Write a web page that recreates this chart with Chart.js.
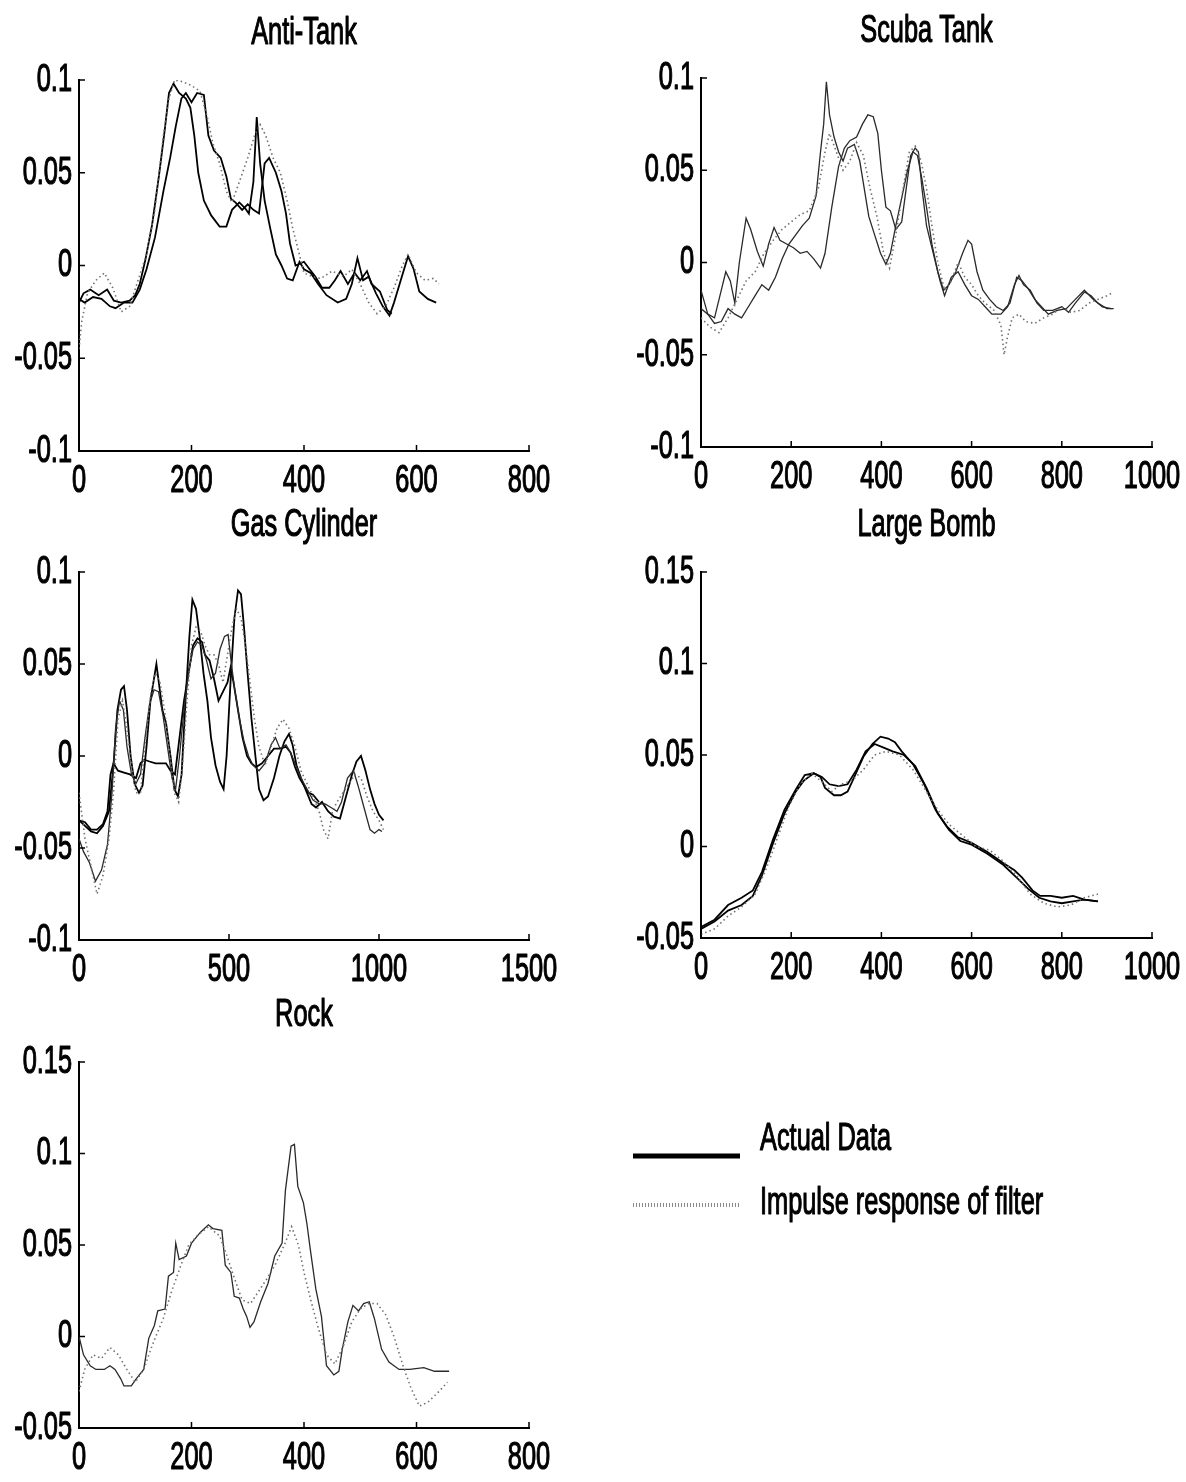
<!DOCTYPE html>
<html lang="en">
<head>
<meta charset="UTF-8">
<title>Actual data vs impulse response of filter</title>
<script src="https://cdn.jsdelivr.net/npm/chart.js"></script>
<style>
  html, body { margin: 0; padding: 0; background: #fff; overflow: hidden; }
  #page { position: relative; width: 1186px; height: 1482px; }
  #page canvas { position: absolute; }
</style>
</head>
<body>
<div id="page"></div>
<script>
// ---------- Anti-Tank ----------
const antiTankXTicks = [0, 200, 400, 600, 800];
const antiTankYTicks = [-0.1, -0.05, 0, 0.05, 0.1];
const antiTankActual1X = [0,8,20,35,50,62,75,90,100,108,118,130,142,152,160,168,178,190,198,205,212,222,235,250,262,272,285,295,302,310,316,322,330,340,350,360,370,380,392,400,412,425,440,460,475,485,495,505,515,528,540,552,560,572,585,595,605,620,635];
const antiTankActual1Y = [-0.020,-0.015,-0.013,-0.016,-0.013,-0.019,-0.020,-0.019,-0.016,-0.010,0.003,0.022,0.048,0.072,0.093,0.098,0.093,0.090,0.085,0.070,0.050,0.035,0.027,0.021,0.021,0.030,0.034,0.031,0.028,0.045,0.080,0.055,0.035,0.020,0.006,0.000,-0.007,-0.008,0.002,-0.002,-0.004,-0.010,-0.016,-0.020,-0.018,-0.010,0.004,-0.008,-0.006,-0.015,-0.022,-0.027,-0.020,-0.008,0.005,-0.002,-0.014,-0.018,-0.020];
const antiTankActual2X = [0,10,25,40,55,65,80,95,108,120,135,150,162,172,182,190,200,210,222,230,240,252,262,270,278,290,300,310,320,330,338,350,360,368,375,385,400,410,420,432,445,455,465,478,490,500,512,520,535,548,556];
const antiTankActual2Y = [-0.018,-0.020,-0.017,-0.018,-0.022,-0.023,-0.020,-0.020,-0.013,-0.002,0.015,0.040,0.058,0.075,0.090,0.093,0.088,0.093,0.092,0.070,0.062,0.058,0.048,0.036,0.034,0.030,0.033,0.030,0.028,0.055,0.058,0.050,0.040,0.028,0.012,0.000,0.002,-0.002,-0.006,-0.012,-0.012,-0.008,-0.003,-0.010,-0.004,-0.008,-0.003,-0.010,-0.014,-0.024,-0.026];
const antiTankFilterX = [0,5,15,30,45,60,75,90,105,120,135,150,160,170,185,200,215,228,238,250,262,272,285,300,312,322,332,345,358,370,380,390,400,415,430,450,470,485,500,515,530,545,560,575,585,600,615,630,640];
const antiTankFilterY = [-0.045,-0.030,-0.015,-0.008,-0.004,-0.012,-0.025,-0.022,-0.008,0.006,0.030,0.070,0.090,0.100,0.099,0.097,0.094,0.080,0.066,0.055,0.040,0.034,0.045,0.058,0.070,0.076,0.070,0.058,0.050,0.035,0.020,0.008,-0.004,-0.006,-0.007,-0.003,-0.006,-0.002,-0.010,-0.020,-0.026,-0.022,-0.012,0.000,0.006,-0.004,-0.008,-0.007,-0.010];

// ---------- Scuba Tank ----------
const scubaXTicks = [0, 200, 400, 600, 800, 1000];
const scubaYTicks = [-0.1, -0.05, 0, 0.05, 0.1];
const scubaActual1X = [0,15,30,45,55,65,75,85,100,110,125,138,150,162,175,190,205,220,235,250,265,275,290,305,318,330,345,358,370,382,392,400,410,420,432,445,455,465,475,482,490,500,515,530,540,555,570,585,600,615,630,645,665,680,695,705,715,730,745,760,780,800,815,830,850,865,880,900,915];
const scubaActual1Y = [-0.015,-0.028,-0.030,-0.015,-0.005,-0.010,-0.022,0.000,0.024,0.018,0.006,-0.002,0.010,0.019,0.012,0.010,0.008,0.005,0.006,0.002,-0.003,0.005,0.030,0.052,0.062,0.066,0.068,0.075,0.080,0.079,0.070,0.050,0.030,0.028,0.018,0.022,0.040,0.058,0.062,0.060,0.040,0.020,0.005,-0.010,-0.018,-0.008,-0.005,-0.012,-0.018,-0.020,-0.024,-0.028,-0.028,-0.024,-0.012,-0.007,-0.012,-0.015,-0.022,-0.026,-0.026,-0.024,-0.027,-0.022,-0.016,-0.018,-0.022,-0.025,-0.025];
const scubaActual2X = [0,15,30,45,60,75,90,105,120,135,150,165,180,195,210,225,240,255,265,272,278,285,295,305,315,325,340,352,362,372,385,398,410,420,432,445,458,470,480,490,500,512,525,538,550,565,580,592,600,612,625,640,655,670,685,700,712,725,740,755,770,790,810,830,850,870,890,910];
const scubaActual2Y = [-0.025,-0.028,-0.033,-0.032,-0.025,-0.028,-0.030,-0.024,-0.018,-0.012,-0.015,-0.008,0.002,0.010,0.015,0.020,0.024,0.036,0.060,0.075,0.098,0.080,0.068,0.060,0.055,0.062,0.064,0.055,0.040,0.025,0.015,0.005,-0.001,0.005,0.020,0.035,0.050,0.060,0.058,0.045,0.030,0.010,-0.005,-0.015,-0.012,-0.005,0.005,0.012,0.010,-0.005,-0.015,-0.020,-0.024,-0.026,-0.022,-0.008,-0.010,-0.014,-0.020,-0.024,-0.028,-0.026,-0.025,-0.020,-0.015,-0.020,-0.024,-0.025];
const scubaFilterX = [0,20,40,60,80,100,120,140,160,180,200,220,240,260,275,285,300,315,330,345,360,375,390,405,418,432,448,462,475,488,500,512,525,540,555,570,585,600,615,630,650,665,672,680,690,705,720,740,760,780,800,820,840,860,880,900,915];
const scubaFilterY = [-0.030,-0.035,-0.038,-0.030,-0.020,-0.010,-0.005,0.005,0.012,0.018,0.022,0.026,0.028,0.040,0.060,0.070,0.060,0.050,0.055,0.065,0.058,0.040,0.025,0.005,-0.003,0.015,0.040,0.060,0.063,0.055,0.040,0.020,0.000,-0.015,-0.010,0.000,-0.008,-0.012,-0.018,-0.022,-0.026,-0.034,-0.050,-0.040,-0.030,-0.028,-0.032,-0.033,-0.030,-0.028,-0.024,-0.027,-0.026,-0.022,-0.020,-0.018,-0.016];

// ---------- Gas Cylinder ----------
const gasXTicks = [0, 500, 1000, 1500];
const gasYTicks = [-0.1, -0.05, 0, 0.05, 0.1];
const gasActual1X = [0,20,40,60,80,100,115,128,140,150,160,172,185,200,212,225,238,250,258,266,278,290,305,318,330,342,355,368,378,390,402,415,428,440,455,470,482,492,505,518,530,540,550,562,575,588,600,615,630,650,668,685,700,712,725,740,760,775,790,810,830,850,870,890,910,925,940,955,970,985,1000,1015];
const gasActual1Y = [-0.035,-0.038,-0.041,-0.042,-0.038,-0.030,-0.005,0.025,0.036,0.038,0.025,0.000,-0.015,-0.020,-0.016,0.005,0.030,0.042,0.050,0.040,0.025,0.018,0.000,-0.018,-0.022,-0.010,0.030,0.065,0.085,0.080,0.065,0.045,0.030,0.010,-0.005,-0.014,-0.018,0.000,0.040,0.075,0.090,0.088,0.070,0.045,0.020,0.000,-0.018,-0.024,-0.022,-0.012,0.000,0.008,0.012,0.006,-0.005,-0.012,-0.020,-0.026,-0.028,-0.025,-0.030,-0.033,-0.034,-0.022,-0.010,-0.003,0.000,-0.008,-0.018,-0.026,-0.032,-0.035];
const gasActual2X = [0,15,35,55,75,95,110,122,135,148,160,175,190,205,220,235,250,265,280,295,310,322,335,350,365,380,395,410,425,440,455,470,485,497,508,520,535,550,565,580,600,620,640,655,670,690,705,720,740,760,780,800,820,840,860,875,895,915,930,950,970,985,1000,1010];
const gasActual2Y = [-0.045,-0.052,-0.058,-0.068,-0.062,-0.048,-0.020,0.015,0.030,0.025,0.005,-0.010,-0.015,-0.010,0.010,0.028,0.036,0.035,0.022,0.005,-0.012,-0.018,0.000,0.025,0.045,0.058,0.062,0.060,0.052,0.042,0.045,0.058,0.065,0.066,0.050,0.035,0.020,0.008,0.000,-0.005,-0.008,-0.004,0.006,0.010,0.004,0.006,0.002,-0.004,-0.012,-0.018,-0.024,-0.026,-0.026,-0.028,-0.030,-0.025,-0.012,-0.008,-0.016,-0.028,-0.040,-0.042,-0.040,-0.041];
const gasActual3X = [0,20,40,60,80,95,105,115,130,150,170,190,205,218,235,255,275,290,305,320,335,350,365,380,395,410,420,435,450,465,480,495,505,515,530,545,560,575,590,610,630,650,670,690,705,720,735,750,765,780,800];
const gasActual3Y = [-0.035,-0.036,-0.040,-0.040,-0.037,-0.030,-0.010,-0.004,-0.008,-0.009,-0.010,-0.012,-0.004,-0.002,-0.003,-0.004,-0.004,-0.004,-0.008,-0.010,0.010,0.030,0.045,0.060,0.064,0.062,0.055,0.052,0.042,0.030,0.035,0.040,0.048,0.040,0.025,0.010,0.000,-0.004,-0.006,-0.004,0.000,0.004,0.004,0.005,0.002,-0.006,-0.012,-0.016,-0.020,-0.021,-0.025];
const gasFilterX = [0,20,40,60,80,100,115,130,145,160,175,190,205,220,240,255,270,285,300,318,332,345,360,375,390,405,420,435,450,465,480,495,510,525,540,555,570,585,600,620,640,660,680,700,720,740,760,780,800,815,830,845,860,880,900,920,940,960,980,1000,1015];
const gasFilterY = [-0.020,-0.045,-0.060,-0.075,-0.065,-0.045,-0.020,0.020,0.030,0.015,-0.005,-0.020,-0.020,0.005,0.035,0.045,0.040,0.025,0.005,-0.020,-0.025,-0.005,0.030,0.060,0.070,0.068,0.060,0.055,0.055,0.050,0.040,0.055,0.070,0.080,0.075,0.060,0.040,0.020,0.005,-0.005,0.005,0.015,0.020,0.015,0.005,-0.008,-0.015,-0.022,-0.030,-0.040,-0.045,-0.030,-0.025,-0.020,-0.015,-0.010,-0.012,-0.022,-0.030,-0.035,-0.040];

// ---------- Large Bomb ----------
const bombXTicks = [0, 200, 400, 600, 800, 1000];
const bombYTicks = [-0.05, 0, 0.05, 0.1, 0.15];
const bombActual1X = [0,30,60,90,115,135,160,185,210,230,250,265,275,295,310,325,340,360,380,398,415,430,445,470,495,520,545,570,600,635,670,695,712,735,752,775,800,825,850,880];
const bombActual1Y = [-0.044,-0.040,-0.032,-0.028,-0.024,-0.014,0.004,0.020,0.031,0.039,0.040,0.038,0.032,0.028,0.028,0.030,0.038,0.049,0.056,0.060,0.059,0.057,0.052,0.045,0.034,0.020,0.011,0.005,0.002,-0.003,-0.009,-0.013,-0.017,-0.024,-0.027,-0.027,-0.028,-0.027,-0.029,-0.030];
const bombActual2X = [0,30,60,90,115,135,160,185,210,228,250,268,285,305,325,345,365,385,405,425,450,475,500,525,550,575,600,635,670,700,725,750,775,800,825,850,880];
const bombActual2Y = [-0.045,-0.041,-0.035,-0.032,-0.027,-0.016,0.002,0.018,0.030,0.036,0.040,0.038,0.034,0.033,0.034,0.042,0.052,0.056,0.054,0.052,0.050,0.044,0.032,0.018,0.009,0.003,0.001,-0.004,-0.010,-0.017,-0.023,-0.028,-0.030,-0.031,-0.030,-0.029,-0.030];
const bombFilterX = [0,30,60,90,120,145,170,195,220,245,270,290,310,335,360,385,410,440,470,500,525,550,580,610,640,670,700,730,760,790,820,850,880];
const bombFilterY = [-0.048,-0.045,-0.038,-0.033,-0.026,-0.012,0.005,0.022,0.034,0.040,0.035,0.030,0.034,0.036,0.042,0.050,0.052,0.050,0.042,0.030,0.020,0.012,0.006,0.000,-0.002,-0.008,-0.016,-0.026,-0.031,-0.033,-0.032,-0.028,-0.026];

// ---------- Rock ----------
const rockXTicks = [0, 200, 400, 600, 800];
const rockYTicks = [-0.05, 0, 0.05, 0.1, 0.15];
const rockActualX = [0,8,20,30,45,55,64,74,80,93,102,115,124,134,140,153,159,168,172,178,191,200,216,230,238,254,260,270,276,285,292,298,304,311,323,336,348,361,367,377,383,389,399,405,411,421,431,440,453,462,468,478,487,497,506,516,525,538,551,569,588,613,632,658];
const rockActualY = [0.000,-0.010,-0.016,-0.018,-0.018,-0.016,-0.018,-0.023,-0.027,-0.027,-0.023,-0.018,-0.001,0.006,0.014,0.015,0.033,0.035,0.051,0.042,0.044,0.051,0.057,0.061,0.059,0.058,0.039,0.035,0.022,0.021,0.015,0.011,0.005,0.008,0.019,0.029,0.044,0.051,0.080,0.104,0.105,0.082,0.073,0.062,0.048,0.026,0.011,-0.016,-0.021,-0.019,-0.007,0.008,0.017,0.014,0.018,0.019,0.010,-0.007,-0.014,-0.018,-0.018,-0.017,-0.019,-0.019];
const rockFilterX = [0,10,25,40,55,70,85,100,115,130,150,165,180,195,210,230,250,262,275,290,305,320,335,350,365,378,390,400,412,425,440,455,470,485,500,515,530,545,560,575,590,605,620,640,655];
const rockFilterY = [-0.030,-0.018,-0.010,-0.012,-0.006,-0.010,-0.018,-0.025,-0.018,-0.005,0.010,0.025,0.038,0.050,0.055,0.060,0.055,0.045,0.033,0.020,0.018,0.025,0.032,0.040,0.050,0.060,0.050,0.035,0.020,0.005,-0.010,-0.015,-0.005,0.008,0.015,0.018,0.018,0.012,0.000,-0.015,-0.028,-0.038,-0.036,-0.030,-0.025];

const ACTUAL_LABEL = 'Actual Data';
const FILTER_LABEL = 'Impulse response of filter';

// line styles
const actualStyle = { borderColor: '#000', borderWidth: 1.8 };
const actualThin = { borderColor: '#2a2a2a', borderWidth: 1.3 };
const filterStyle = { borderColor: '#707070', borderWidth: 1.6, borderDash: [1.5, 3] };

// narrow, tall lettering like the old plotting font
const FONT = '39px "Liberation Sans", Arial, sans-serif';
const TEXT_SCALE = 0.65;

function narrowText(ctx, text, x, y, align) {
  ctx.save();
  ctx.translate(x, y);
  ctx.scale(TEXT_SCALE, 1);
  ctx.font = FONT;
  ctx.fillStyle = '#000';
  ctx.strokeStyle = '#000';
  ctx.lineWidth = 1.2;
  ctx.lineJoin = 'round';
  ctx.textAlign = align;
  ctx.textBaseline = 'middle';
  ctx.fillText(text, 0, 0);
  ctx.strokeText(text, 0, 0);
  ctx.restore();
}

// inward tick marks, tick labels and panel title
const matlabAxes = {
  id: 'matlabAxes',
  afterDraw(chart, args, opts) {
    const { ctx, chartArea: a, scales: { x, y } } = chart;
    ctx.save();
    ctx.strokeStyle = '#000';
    ctx.lineWidth = 1.5;
    ctx.beginPath();
    opts.xTicks.forEach(v => {
      const px = x.getPixelForValue(v);
      ctx.moveTo(px, a.bottom);
      ctx.lineTo(px, a.bottom - 6);
    });
    opts.yTicks.forEach(v => {
      const py = y.getPixelForValue(v);
      ctx.moveTo(a.left, py);
      ctx.lineTo(a.left + 6, py);
    });
    ctx.stroke();
    ctx.restore();

    opts.xTicks.forEach(v => narrowText(ctx, String(v), x.getPixelForValue(v), a.bottom + 30, 'center'));
    opts.yTicks.forEach(v => narrowText(ctx, String(v), a.left - 7, y.getPixelForValue(v), 'right'));
    narrowText(ctx, opts.title, (a.left + a.right) / 2, a.top - 47, 'center');
  }
};

// legend to the right of the last panel
const sideLegend = {
  id: 'sideLegend',
  afterDraw(chart, args, opts) {
    const ctx = chart.ctx;
    const top = opts.canvasTop;
    opts.rows.forEach(row => {
      const ds = chart.data.datasets.find(d => d.label === row.label);
      ctx.save();
      ctx.strokeStyle = row.color;
      ctx.lineWidth = row.width;
      ctx.setLineDash(row.dash);
      ctx.beginPath();
      ctx.moveTo(opts.x0, row.y - top);
      ctx.lineTo(opts.x1, row.y - top);
      ctx.stroke();
      ctx.restore();
      narrowText(ctx, ds.label, opts.textX, row.textY - top, 'left');
    });
  }
};

function series(label, xs, ys, style) {
  return {
    label,
    data: xs.map((v, i) => ({ x: v, y: ys[i] })),
    ...style,
    pointRadius: 0,
    tension: 0,
    fill: false
  };
}

const panels = [
  {
    title: 'Anti-Tank', xMax: 800, yMin: -0.1, yMax: 0.1,
    xTicks: antiTankXTicks, yTicks: antiTankYTicks,
    canvas: { left: 0, top: 0, width: 600, height: 504 },
    plot: { left: 79, top: 80, right: 529, bottom: 451 },
    datasets: [
      series(FILTER_LABEL, antiTankFilterX, antiTankFilterY, filterStyle),
      series(ACTUAL_LABEL, antiTankActual2X, antiTankActual2Y, actualStyle),
      series(ACTUAL_LABEL, antiTankActual1X, antiTankActual1Y, actualStyle)
    ]
  },
  {
    title: 'Scuba Tank', xMax: 1000, yMin: -0.1, yMax: 0.1,
    xTicks: scubaXTicks, yTicks: scubaYTicks,
    canvas: { left: 620, top: 0, width: 566, height: 504 },
    plot: { left: 701, top: 78, right: 1152, bottom: 447 },
    datasets: [
      series(FILTER_LABEL, scubaFilterX, scubaFilterY, filterStyle),
      series(ACTUAL_LABEL, scubaActual2X, scubaActual2Y, actualThin),
      series(ACTUAL_LABEL, scubaActual1X, scubaActual1Y, actualThin)
    ]
  },
  {
    title: 'Gas Cylinder', xMax: 1500, yMin: -0.1, yMax: 0.1,
    xTicks: gasXTicks, yTicks: gasYTicks,
    canvas: { left: 0, top: 494, width: 600, height: 496 },
    plot: { left: 79, top: 572, right: 529, bottom: 940 },
    datasets: [
      series(FILTER_LABEL, gasFilterX, gasFilterY, filterStyle),
      series(ACTUAL_LABEL, gasActual2X, gasActual2Y, actualThin),
      series(ACTUAL_LABEL, gasActual3X, gasActual3Y, actualStyle),
      series(ACTUAL_LABEL, gasActual1X, gasActual1Y, actualStyle)
    ]
  },
  {
    title: 'Large Bomb', xMax: 1000, yMin: -0.05, yMax: 0.15,
    xTicks: bombXTicks, yTicks: bombYTicks,
    canvas: { left: 620, top: 494, width: 566, height: 496 },
    plot: { left: 701, top: 572, right: 1152, bottom: 938 },
    datasets: [
      series(FILTER_LABEL, bombFilterX, bombFilterY, filterStyle),
      series(ACTUAL_LABEL, bombActual2X, bombActual2Y, actualStyle),
      series(ACTUAL_LABEL, bombActual1X, bombActual1Y, actualStyle)
    ]
  },
  {
    title: 'Rock', xMax: 800, yMin: -0.05, yMax: 0.15,
    xTicks: rockXTicks, yTicks: rockYTicks,
    canvas: { left: 0, top: 984, width: 1186, height: 498 },
    plot: { left: 79, top: 1062, right: 529, bottom: 1428 },
    datasets: [
      series(FILTER_LABEL, rockFilterX, rockFilterY, filterStyle),
      series(ACTUAL_LABEL, rockActualX, rockActualY, actualThin)
    ],
    legend: {
      canvasTop: 984, x0: 633, x1: 740, textX: 760,
      rows: [
        { label: ACTUAL_LABEL, y: 1156, textY: 1139, width: 5, dash: [], color: '#000' },
        { label: FILTER_LABEL, y: 1205, textY: 1203, width: 4, dash: [1, 2], color: '#8a8a8a' }
      ]
    }
  }
];

const page = document.getElementById('page');

panels.forEach(p => {
  const c = document.createElement('canvas');
  c.width = p.canvas.width;
  c.height = p.canvas.height;
  c.style.left = p.canvas.left + 'px';
  c.style.top = p.canvas.top + 'px';
  page.appendChild(c);

  const padding = {
    left: p.plot.left - p.canvas.left,
    top: p.plot.top - p.canvas.top,
    right: p.canvas.left + p.canvas.width - p.plot.right,
    bottom: p.canvas.top + p.canvas.height - p.plot.bottom
  };

  const plugins = [matlabAxes];
  if (p.legend) plugins.push(sideLegend);

  new Chart(c.getContext('2d'), {
    type: 'line',
    data: { datasets: p.datasets },
    plugins,
    options: {
      responsive: false,
      animation: false,
      events: [],
      layout: { padding },
      plugins: {
        legend: { display: false },
        tooltip: { enabled: false },
        title: { display: false },
        matlabAxes: { title: p.title, xTicks: p.xTicks, yTicks: p.yTicks },
        sideLegend: p.legend || {}
      },
      scales: {
        x: {
          type: 'linear', min: 0, max: p.xMax,
          grid: { display: false },
          ticks: { display: false },
          border: { display: true, color: '#000', width: 2 },
          afterFit: s => { s.height = 0; }
        },
        y: {
          type: 'linear', min: p.yMin, max: p.yMax,
          grid: { display: false },
          ticks: { display: false },
          border: { display: true, color: '#000', width: 2 },
          afterFit: s => { s.width = 0; }
        }
      }
    }
  });
});
</script>
</body>
</html>
